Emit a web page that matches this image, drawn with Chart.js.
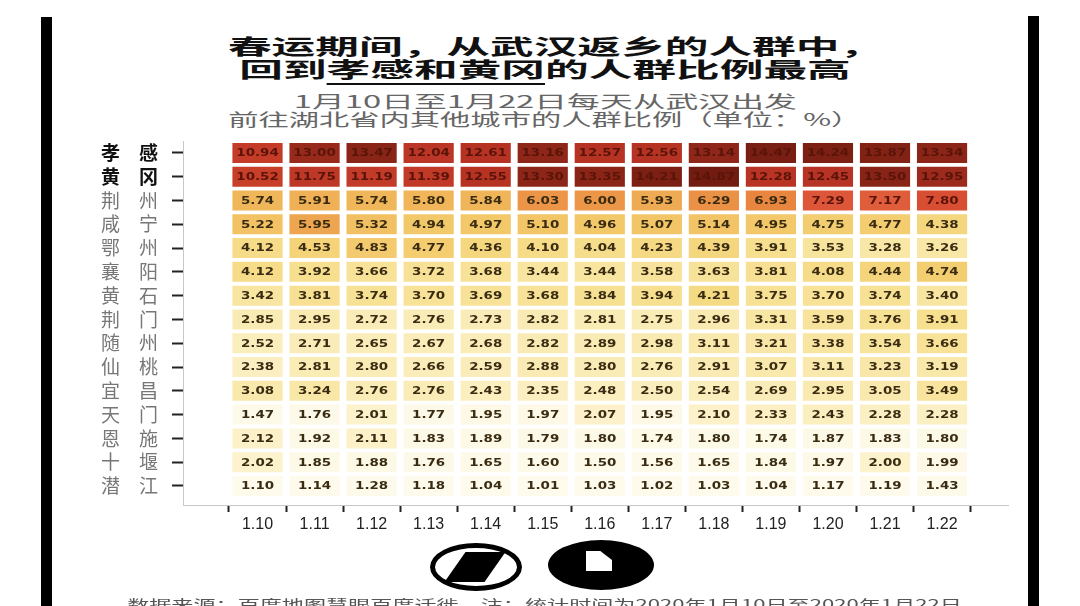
<!DOCTYPE html>
<html>
<head>
<meta charset="utf-8">
<script src="https://cdn.jsdelivr.net/npm/chart.js@4.4.1/dist/chart.umd.min.js"></script>
<style>
html, body { margin:0; padding:0; background:#fff; width:1080px; height:606px; overflow:hidden; position:relative;
  font-family:'Noto Sans CJK SC', sans-serif; }
.vbar { position:absolute; top:17px; bottom:0; width:11px; background:#000; }
.line { position:absolute; left:0; width:1090px; text-align:center; white-space:nowrap; }
.line .in { display:inline-block; transform-origin:center; }
.title .in { font-size:21px; line-height:22px; font-weight:bold; color:#111; transform:scaleX(2.08); }
.title u { text-decoration:none; border-bottom:2px solid #111; }
.sub .in { font-size:17px; line-height:18px; color:#666; transform:scaleX(1.78); }
.foot .in { font-size:13px; line-height:14px; color:#555; transform:scaleX(1.7); }
#c { position:absolute; left:0; top:0; }
.logo1 { position:absolute; left:430px; top:543px; width:82px; height:38px; border:5px solid #000; border-radius:50%; }
.logo1 i { position:absolute; left:20px; top:4px; width:40px; height:30px; background:#000; transform:skewX(-35deg); }
.logo2 { position:absolute; left:548px; top:540px; width:106px; height:50px; background:#000; border-radius:50%; }
.logo2 i { position:absolute; left:38px; top:11px; width:26px; height:20px; background:#fff; clip-path:polygon(0 0,55% 0,100% 45%,100% 100%,0 100%); }
</style>
</head>
<body>
<div class="vbar" style="left:41px"></div>
<div class="vbar" style="left:1028px;top:16px"></div>

<div class="line title" style="top:34px;left:10px"><span class="in">春运期间，从武汉返乡的人群中，</span></div>
<div class="line title" style="top:57px"><span class="in">回到<u>孝感和黄冈</u>的人群比例最高</span></div>
<div class="line sub" style="top:89px"><span class="in" style="transform:scaleX(1.93)">1月10日至1月22日每天从武汉出发</span></div>
<div class="line sub" style="top:107px"><span class="in">前往湖北省内其他城市的人群比例（单位：%）</span></div>

<canvas id="c" width="1080" height="606"></canvas>

<div class="logo1"><i></i></div>
<div class="logo2"><i></i></div>
<div class="line foot" style="top:590px"><span class="in">数据来源：百度地图慧眼百度迁徙　注：统计时间为2020年1月10日至2020年1月22日</span></div>

<script>
// rows top to bottom
var cities = ['孝感', '黄冈', '荆州', '咸宁', '鄂州', '襄阳', '黄石', '荆门', '随州', '仙桃', '宜昌', '天门', '恩施', '十堰', '潜江']
var dates = ['1.10', '1.11', '1.12', '1.13', '1.14', '1.15', '1.16', '1.17', '1.18', '1.19', '1.20', '1.21', '1.22']

var xiaogan   = [10.94, 13.00, 13.47, 12.04, 12.61, 13.16, 12.57, 12.56, 13.14, 14.47, 14.24, 13.87, 13.34]
var huanggang = [10.52, 11.75, 11.19, 11.39, 12.55, 13.30, 13.35, 14.21, 14.87, 12.28, 12.45, 13.50, 12.95]
var jingzhou  = [5.74, 5.91, 5.74, 5.80, 5.84, 6.03, 6.00, 5.93, 6.29, 6.93, 7.29, 7.17, 7.80]
var xianning  = [5.22, 5.95, 5.32, 4.94, 4.97, 5.10, 4.96, 5.07, 5.14, 4.95, 4.75, 4.77, 4.38]
var ezhou     = [4.12, 4.53, 4.83, 4.77, 4.36, 4.10, 4.04, 4.23, 4.39, 3.91, 3.53, 3.28, 3.26]
var xiangyang = [4.12, 3.92, 3.66, 3.72, 3.68, 3.44, 3.44, 3.58, 3.63, 3.81, 4.08, 4.44, 4.74]
var huangshi  = [3.42, 3.81, 3.74, 3.70, 3.69, 3.68, 3.84, 3.94, 4.21, 3.75, 3.70, 3.74, 3.40]
var jingmen   = [2.85, 2.95, 2.72, 2.76, 2.73, 2.82, 2.81, 2.75, 2.96, 3.31, 3.59, 3.76, 3.91]
var suizhou   = [2.52, 2.71, 2.65, 2.67, 2.68, 2.82, 2.89, 2.98, 3.11, 3.21, 3.38, 3.54, 3.66]
var xiantao   = [2.38, 2.81, 2.80, 2.66, 2.59, 2.88, 2.80, 2.76, 2.91, 3.07, 3.11, 3.23, 3.19]
var yichang   = [3.08, 3.24, 2.76, 2.76, 2.43, 2.35, 2.48, 2.50, 2.54, 2.69, 2.95, 3.05, 3.49]
var tianmen   = [1.47, 1.76, 2.01, 1.77, 1.95, 1.97, 2.07, 1.95, 2.10, 2.33, 2.43, 2.28, 2.28]
var enshi     = [2.12, 1.92, 2.11, 1.83, 1.89, 1.79, 1.80, 1.74, 1.80, 1.74, 1.87, 1.83, 1.80]
var shiyan    = [2.02, 1.85, 1.88, 1.76, 1.65, 1.60, 1.50, 1.56, 1.65, 1.84, 1.97, 2.00, 1.99]
var qianjiang = [1.10, 1.14, 1.28, 1.18, 1.04, 1.01, 1.03, 1.02, 1.03, 1.04, 1.17, 1.19, 1.43]

var rows = [xiaogan, huanggang, jingzhou, xianning, ezhou, xiangyang, huangshi, jingmen,
            suizhou, xiantao, yichang, tianmen, enshi, shiyan, qianjiang]

// colour ramp: value -> colour
var stops = [
	[0, '#fffdf5'], [1.99, '#fdf9e6'], [2.0, '#fcf2cc'], [3.0, '#f9eab0'], [4.0, '#f6de8c'],
	[4.5, '#f4d47a'], [5.0, '#f2c768'], [5.9, '#f0b457'], [6.0, '#ec9648'], [6.95, '#e8853f'],
	[7.2, '#df583a'], [8, '#d64a30'], [11, '#c43c28'], [12.7, '#b53224'], [13.1, '#8f2719'], [15, '#701b10']
]
function hex(h) { return [parseInt(h.substr(1,2),16), parseInt(h.substr(3,2),16), parseInt(h.substr(5,2),16)] }
function colorFor(v) {
	for (var i = 1; i < stops.length; i++) {
		if (v <= stops[i][0]) {
			var a = hex(stops[i-1][1]), b = hex(stops[i][1])
			var t = (v - stops[i-1][0]) / (stops[i][0] - stops[i-1][0])
			return 'rgb(' + [0,1,2].map(function(k) { return Math.round(a[k] + (b[k]-a[k]) * t) }).join(',') + ')'
		}
	}
	return stops[stops.length-1][1]
}

var datasets = rows.map(function(vals, r) {
	return {
		label: cities[r],
		data: vals.map(function(v, j) { return { x: j, y: [r - 0.42, r + 0.42] } }),
		backgroundColor: vals.map(colorFor),
		borderWidth: 0
	}
})

// numbers inside the cells
var cellLabels = {
	id: 'cellLabels',
	afterDatasetsDraw: function(chart) {
		var ctx = chart.ctx
		ctx.save()
		ctx.font = 'bold 11px "DejaVu Sans"'
		ctx.textAlign = 'center'
		ctx.textBaseline = 'middle'
		chart.data.datasets.forEach(function(ds, r) {
			chart.getDatasetMeta(r).data.forEach(function(el, j) {
				var v = rows[r][j]
				ctx.save()
				ctx.translate(el.x, (el.y + el.base) / 2 + 0.5)
				ctx.scale(1.22, 1)
				ctx.fillStyle = v >= 7 ? '#5a1409' : '#3a2c12'
				ctx.fillText(v.toFixed(2), 0, 0)
				ctx.restore()
			})
		})
		ctx.restore()
	}
}

new Chart(document.getElementById('c'), {
	type: 'bar',
	data: { datasets: datasets },
	plugins: [cellLabels],
	options: {
		responsive: false,
		animation: false,
		devicePixelRatio: 1,
		layout: { padding: { left: 60, right: 72, top: 141, bottom: 61 } },
		datasets: { bar: { grouped: false, categoryPercentage: 1, barPercentage: 0.88 } },
		plugins: { legend: { display: false }, tooltip: { enabled: false } },
		scales: {
			x: {
				type: 'linear', min: -0.75, max: 12.6,
				afterBuildTicks: function(s) { s.ticks = dates.map(function(d, i) { return { value: i } }) },
				afterFit: function(s) { s.height = 40 },
				ticks: {
					autoSkip: false, maxRotation: 0, padding: 3, color: '#222',
					font: { family: '"Liberation Sans Narrow", "Liberation Sans", sans-serif', size: 16 },
					callback: function(v) { return dates[v] }
				},
				grid: { drawOnChartArea: false, drawTicks: true, tickLength: 7, tickWidth: 2, tickColor: '#222' },
				border: { display: true, color: '#c8c8c8', width: 1, dash: [1, 2] }
			},
			y: {
				type: 'linear', reverse: true, min: -0.5, max: 14.8,
				afterBuildTicks: function(s) { s.ticks = cities.map(function(c, i) { return { value: i } }) },
				afterFit: function(s) { s.width = 123 },
				ticks: {
					autoSkip: false, padding: 14,
					color: function(c) { return c.index < 2 ? '#111' : '#777' },
					font: function(c) {
						return { family: '"Noto Sans CJK SC", sans-serif', size: 19, weight: c.index < 2 ? 'bold' : 'normal' }
					},
					callback: function(v) { return cities[v].split('').join('\u3000') }
				},
				grid: { drawOnChartArea: false, drawTicks: true, tickLength: 11, tickWidth: 2, tickColor: '#222' },
				border: { display: true, color: '#c8c8c8', width: 1, dash: [1, 2] }
			}
		}
	}
})
</script>
</body>
</html>
